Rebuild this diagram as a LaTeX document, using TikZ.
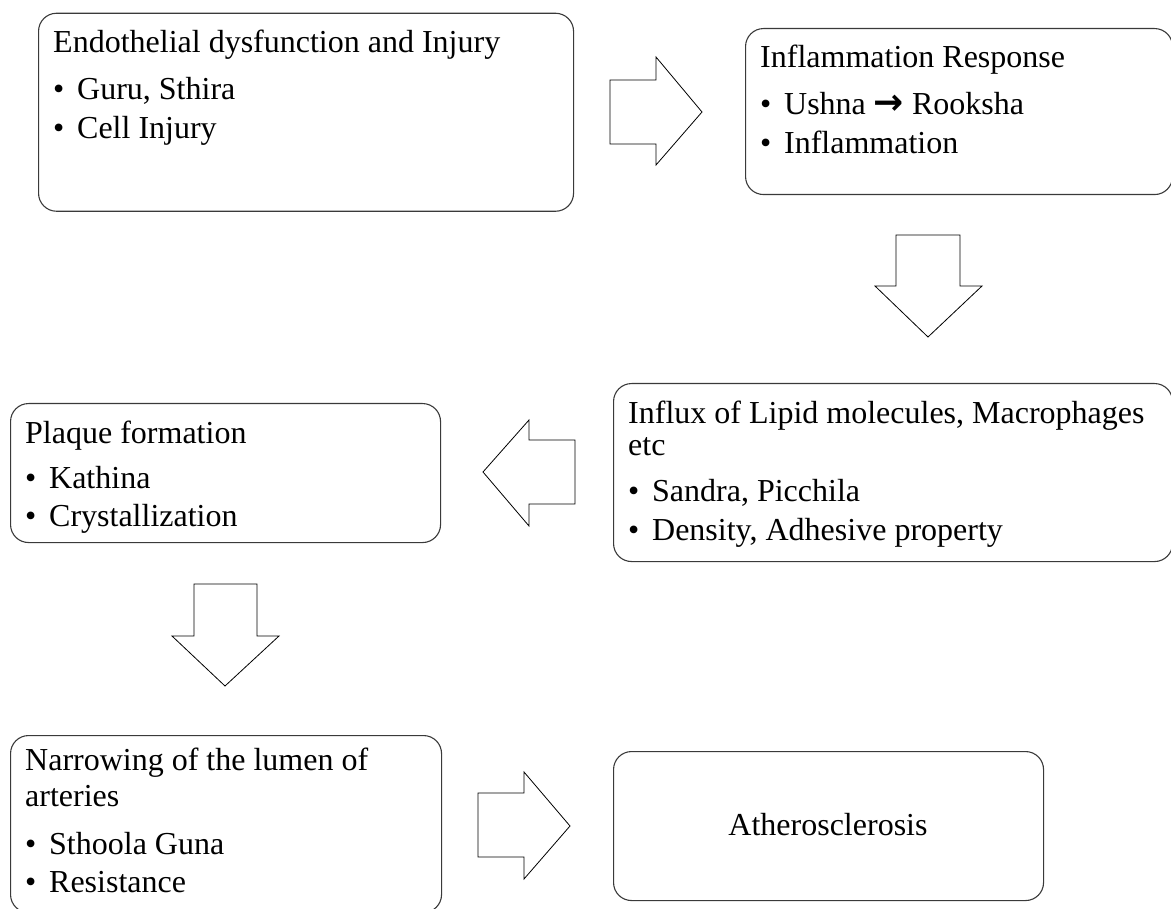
\documentclass[tikz,border=0pt]{standalone}
\usepackage{fontspec}
\setmainfont{Liberation Serif}
\newfontfamily\arrowfont{DejaVu Sans}
\definecolor{boxgray}{HTML}{3A3A3A}
\begin{document}
\begin{tikzpicture}[x=1pt,y=-1pt,
  box/.style={draw=boxgray, line width=1.1pt, rounded corners=18pt, inner sep=0pt, anchor=north west},
  blockarrow/.style={draw=black, line width=0.8pt, fill=white, line join=miter},
  txt/.style={anchor=base west, inner sep=0pt, font=\fontsize{32}{38.4}\selectfont},
  every node/.append style={text=black}]
\newcommand{\bul}[1]{\makebox[24pt][l]{•}#1}
\newcommand{\thickarrow}{{\arrowfont\bfseries\fontsize{36}{38}\selectfont →}}
\useasboundingbox (0,0) rectangle (1171,909);
% boxes
\node[box, minimum width=535pt, minimum height=198pt] (b1) at (38,12.7) {};
\node[box, minimum width=427pt, minimum height=166pt] (b2) at (745,28) {};
\node[box, minimum width=559pt, minimum height=178pt] (b3) at (613,383) {};
\node[box, minimum width=430pt, minimum height=139pt] (b4) at (10,403) {};
\node[box, minimum width=431pt, minimum height=177pt] (b5) at (10,735) {};
\node[box, minimum width=430pt, minimum height=149pt] (b6) at (613,751) {};
% texts
\node[txt] (t1) at (53,53) {\parbox[t]{520pt}{Endothelial dysfunction and Injury\\[8.6pt]\bul{Guru, Sthira}\\\bul{Cell Injury}}};
\node[txt] (t2) at (760,68) {\parbox[t]{410pt}{Inflammation Response\\[8.6pt]\bul{Ushna \thickarrow{} Rooksha}\\\bul{Inflammation}}};
\node[txt] (t3) at (628,424) {\parbox[t]{540pt}{Influx of Lipid molecules, Macrophages\\[-6.4pt]etc\\[7.6pt]\bul{Sandra, Picchila}\\\bul{Density, Adhesive property}}};
\node[txt] (t4) at (25,443) {\parbox[t]{410pt}{Plaque formation\\[6.6pt]\bul{Kathina}\\\bul{Crystallization}}};
\node[txt] (t5) at (25,770) {\parbox[t]{410pt}{Narrowing of the lumen of\\[-2.4pt]arteries\\[9.6pt]\bul{Sthoola Guna}\\\bul{Resistance}}};
\node[txt, anchor=base] (t6) at (828,835) {Atherosclerosis};
% block arrows
\draw[blockarrow] (610,80) -- (656,80) -- (656,57) -- (702,112) -- (656,165) -- (656,144) -- (610,144) -- cycle;
\draw[blockarrow] (896,235) -- (960,235) -- (960,286) -- (982,286) -- (928,337) -- (875,286) -- (896,286) -- cycle;
\draw[blockarrow] (575,440) -- (529,440) -- (529,420) -- (483,472) -- (529,526) -- (529,504) -- (575,504) -- cycle;
\draw[blockarrow] (194,584) -- (257,584) -- (257,636) -- (279,636) -- (225,686) -- (172,636) -- (194,636) -- cycle;
\draw[blockarrow] (478,793) -- (524,793) -- (524,772) -- (570,826) -- (524,879) -- (524,857) -- (478,857) -- cycle;
\end{tikzpicture}
\end{document}
